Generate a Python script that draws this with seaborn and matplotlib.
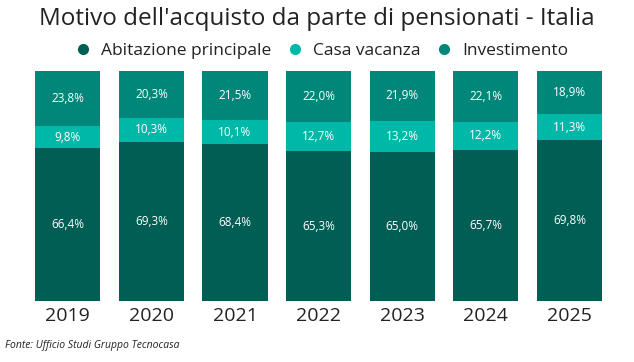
import numpy as np
import pandas as pd
import seaborn as sns
import matplotlib.pyplot as plt
from matplotlib.lines import Line2D

# Dati
anni = ["2019", "2020", "2021", "2022", "2023", "2024", "2025"]
abitazione = [66.4, 69.3, 68.4, 65.3, 65.0, 65.7, 69.8]
vacanza = [9.8, 10.3, 10.1, 12.7, 13.2, 12.2, 11.3]
investimento = [23.8, 20.3, 21.5, 22.0, 21.9, 22.1, 18.9]

col_abit = "#005E54"
col_vac = "#00B8A8"
col_inv = "#00877A"

sns.set_theme(style="white")
plt.rcParams["font.family"] = ["Open Sans", "DejaVu Sans"]

df = pd.DataFrame({"Anno": anni, "Abit": abitazione, "Vac": vacanza, "Inv": investimento})
df["c1"] = df["Abit"]
df["c2"] = df["Abit"] + df["Vac"]
df["c3"] = df["c2"] + df["Inv"]

fig = plt.figure(figsize=(6.34, 3.62), dpi=100)
ax = fig.add_axes([0.041, 0.168, 0.923, 0.636])

# barre sovrapposte (totali cumulati)
for col, c in (("c3", col_inv), ("c2", col_vac), ("c1", col_abit)):
    sns.barplot(data=df, x="Anno", y=col, color=c, saturation=1, width=0.78, linewidth=0, ax=ax)

def fmt(v):
    return f"{v:.1f}%".replace(".", ",")

for i, r in df.iterrows():
    ax.text(i, r["Abit"] / 2, fmt(r["Abit"]), ha="center", va="center", color="white", fontsize=8.5)
    ax.text(i, r["c1"] + r["Vac"] / 2, fmt(r["Vac"]), ha="center", va="center", color="white", fontsize=8.5)
    ax.text(i, r["c2"] + r["Inv"] / 2, fmt(r["Inv"]), ha="center", va="center", color="white", fontsize=8.5)

ax.set_ylim(0, 100)
ax.set_xlim(-0.5, 6.5)
ax.set_xlabel("")
ax.set_ylabel("")
ax.set_yticks([])
ax.tick_params(axis="x", labelsize=14, length=0, pad=4, colors="#222222")
sns.despine(ax=ax, left=True, bottom=True)

fig.text(0.5, 0.948, "Motivo dell'acquisto da parte di pensionati - Italia", ha="center", va="center",
         fontsize=17.5, color="#222222")

handles = [Line2D([], [], marker="o", linestyle="", markersize=7, color=c) for c in (col_abit, col_vac, col_inv)]
fig.legend(handles, ["Abitazione principale", "Casa vacanza", "Investimento"], loc="center",
           bbox_to_anchor=(0.5, 0.858), ncol=3, frameon=False, fontsize=12.5, handletextpad=0.0,
           columnspacing=0.4, labelcolor="#222222")

fig.text(0.008, 0.045, "Fonte: Ufficio Studi Gruppo Tecnocasa", ha="left", va="center",
         fontsize=7.5, style="italic", color="#222222")

fig.savefig("out.png", dpi=100)
